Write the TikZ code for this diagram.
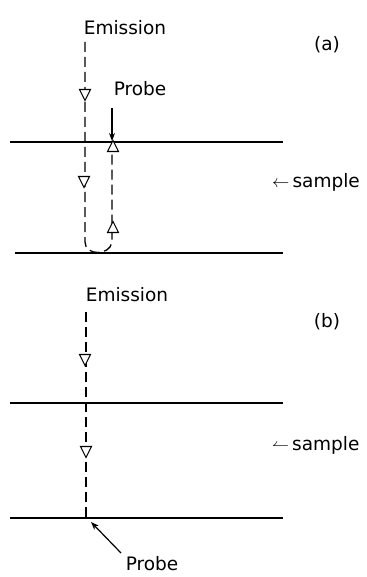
\documentclass[tikz,border=0pt]{standalone}
\usepackage{fontspec}
\setmainfont{DejaVu Sans}
\usetikzlibrary{arrows.meta}
\begin{document}
\begin{tikzpicture}[x=1pt,y=-1pt,
  lbl/.style={inner sep=0pt,font=\fontsize{18.5}{20}\selectfont},
  surf/.style={line width=1.3pt},
  beam/.style={line width=1.3pt,dash pattern=on 10pt off 5pt},
  probearrow/.style={line width=1.2pt,-{Stealth[length=8pt,width=6pt]}},
  tridown/.pic={\draw[line width=1.1pt,fill=white] (-5.5,-5.5) -- (5.5,-5.5) -- (0,5.5) -- cycle;},
  triup/.pic={\draw[line width=1.1pt,fill=white] (-5.5,5.5) -- (5.5,5.5) -- (0,-5.5) -- cycle;}]
\useasboundingbox (0,0) rectangle (366,577);
% ---------- panel (a)
\node[lbl] (ea) at (125,28) {Emission};
\node[lbl] (pa) at (140,89) {Probe};
\node[lbl] (la) at (327,45) {(a)};
\node[lbl,anchor=west] (sa) at (272,182) {$\leftarrow$\,sample};
\coordinate (atl) at (10,142); \coordinate (atr) at (283,142);
\coordinate (abl) at (15,253); \coordinate (abr) at (283,253);
\draw[surf] (atl) -- (atr);
\draw[surf] (abl) -- (abr);
\coordinate (ea0) at (85,42);
\coordinate (pa0) at (112,108);
\coordinate (pa1) at (112,141);
\draw[beam] (ea0) -- (85,242) .. controls (85,256) and (110,256) .. (112,242) -- (112,149);
\draw[probearrow] (pa0) -- (pa1);
\pic at (85,95) {tridown};
\pic at (84,182) {tridown};
\pic at (113,146) {triup};
\pic at (113,227) {triup};
% ---------- panel (b)
\node[lbl] (eb) at (127,295) {Emission};
\node[lbl] (pb) at (152,564) {Probe};
\node[lbl] (lb) at (327,322) {(b)};
\node[lbl,anchor=west] (sb) at (272,445) {$\leftharpoonup$\,sample};
\coordinate (btl) at (10,403); \coordinate (btr) at (283,403);
\coordinate (bbl) at (10,518); \coordinate (bbr) at (283,518);
\draw[surf] (btl) -- (btr);
\draw[surf] (bbl) -- (bbr);
\coordinate (eb0) at (86,312);
\coordinate (eb1) at (86,518);
\draw[beam] (eb0) -- (eb1);
\pic at (85,360) {tridown};
\pic at (86,452) {tridown};
\coordinate (pb0) at (121,553);
\coordinate (pb1) at (91,522);
\draw[probearrow] (pb0) -- (pb1);
\end{tikzpicture}
\end{document}
